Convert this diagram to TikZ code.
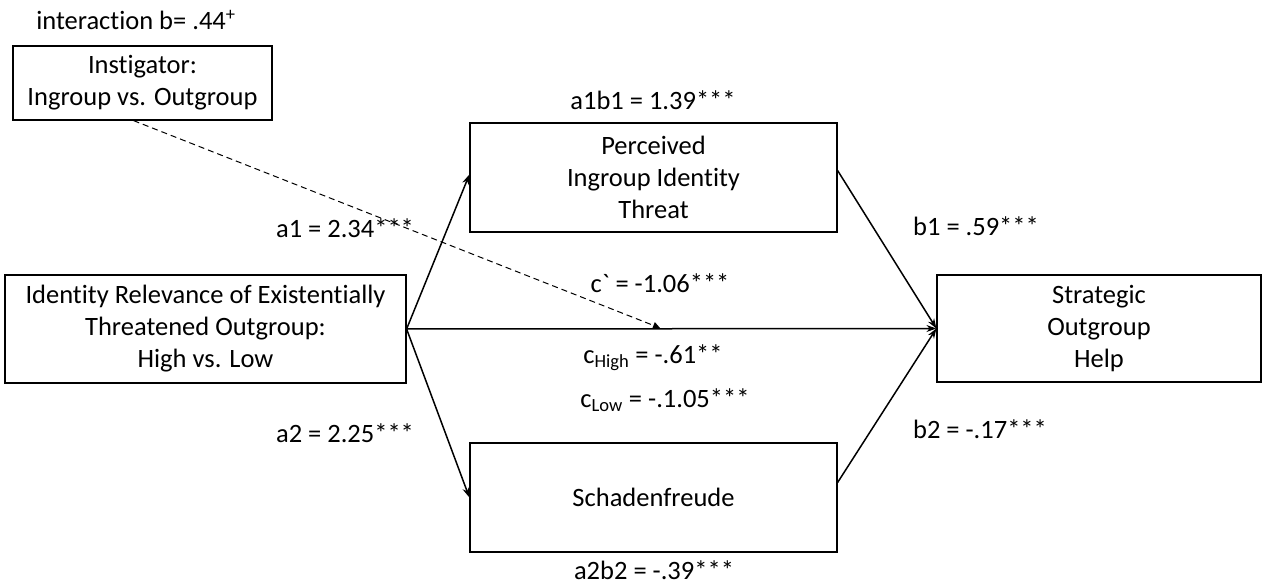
\documentclass[tikz,border=0pt]{standalone}
\usepackage{fontspec}
\setmainfont{Carlito}[Ligatures={NoCommon}]
\newfontfamily\rawfont{Carlito}[Ligatures=ResetAll]
\usetikzlibrary{arrows.meta}
\begin{document}
\begin{tikzpicture}[x=1pt,y=-1pt,
  box/.style={draw, line width=1.2pt, align=center, inner sep=0pt, font=\fontsize{26.5}{32}\selectfont},
  lbl/.style={font=\fontsize{26.5}{32}\selectfont, inner sep=0pt},
  arr/.style={line width=1.5pt, -{Stealth[length=10pt,width=7pt]}}]
\useasboundingbox (0,0) rectangle (1263,585);
\node[box, minimum width=259pt, minimum height=74pt] (inst) at (142.5,83) {Instigator:\\Ingroup vs. Outgroup};
\node[box, minimum width=401pt, minimum height=108pt] (iv) at (205.5,329) {Identity Relevance of Existentially\\Threatened Outgroup:\\High vs. Low};
\node[box, minimum width=367pt, minimum height=109pt] (top) at (653.5,177.5) {Perceived\\Ingroup Identity\\Threat};
\node[box, minimum width=367pt, minimum height=109pt] (bot) at (653.5,497.5) {Schadenfreude};
\node[box, minimum width=324pt, minimum height=107pt] (dv) at (1099,328.5) {Strategic\\Outgroup\\Help};
\coordinate (m) at (660,328);
\node[lbl] (lint) at (136,20) {interaction b= .44\textsuperscript{+}};
\node[lbl] (la1b1) at (653,100) {a1b1 = 1.39***};
\node[lbl] (la1) at (345,228) {a1 = 2.34***};
\node[lbl] (lc) at (660,283) {c{\rawfont`} = -1.06***};
\node[lbl] (lch) at (653,358) {c\textsubscript{High} = -.61**};
\node[lbl] (lcl) at (665,400) {c\textsubscript{Low} = -.1.05***};
\node[lbl] (la2) at (345,433) {a2 = 2.25***};
\node[lbl] (lb1) at (976,226) {b1 = .59***};
\node[lbl] (lb2) at (980,429) {b2 = -.17***};
\node[lbl] (la2b2) at (654,570) {a2b2 = -.39***};
\draw[arr] (iv.east) -- (dv.west);
\draw[arr] (iv.east) -- ([yshift=3pt]top.west);
\draw[arr] (iv.east) -- (bot.west);
\draw[arr] ([yshift=7pt]top.east) -- (dv.west);
\draw[arr] ([yshift=15pt]bot.east) -- (dv.west);
\draw[line width=1pt, dash pattern=on 6pt off 4pt, -{Triangle[length=7pt,width=7pt]}] ([xshift=-9pt]inst.south) -- (m);
\end{tikzpicture}
\end{document}
